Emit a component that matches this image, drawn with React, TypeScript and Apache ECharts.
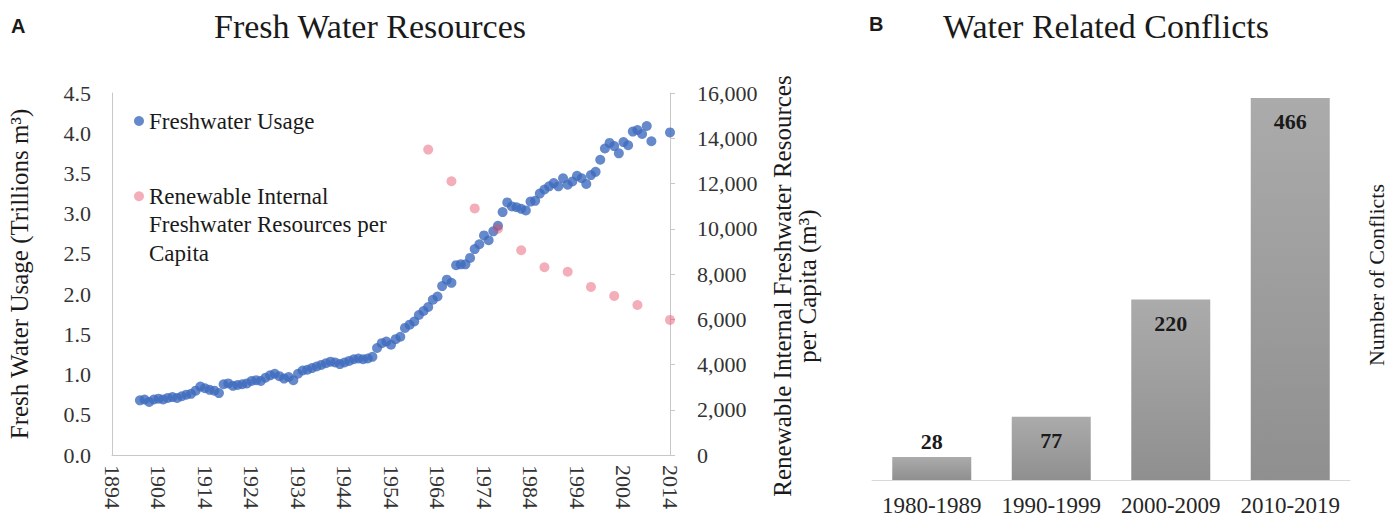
import React, { useEffect, useRef } from "react";
import * as echarts from "echarts";

// ---------- Data ----------
const usageYears = [
  1900, 1901, 1902, 1903, 1904, 1905, 1906, 1907, 1908, 1909,
  1910, 1911, 1912, 1913, 1914, 1915, 1916, 1917, 1918, 1919,
  1920, 1921, 1922, 1923, 1924, 1925, 1926, 1927, 1928, 1929,
  1930, 1931, 1932, 1933, 1934, 1935, 1936, 1937, 1938, 1939,
  1940, 1941, 1942, 1943, 1944, 1945, 1946, 1947, 1948, 1949,
  1950, 1951, 1952, 1953, 1954, 1955, 1956, 1957, 1958, 1959,
  1960, 1961, 1962, 1963, 1964, 1965, 1966, 1967, 1968, 1969,
  1970, 1971, 1972, 1973, 1974, 1975, 1976, 1977, 1978, 1979,
  1980, 1981, 1982, 1983, 1984, 1985, 1986, 1987, 1988, 1989,
  1990, 1991, 1992, 1993, 1994, 1995, 1996, 1997, 1998, 1999,
  2000, 2001, 2002, 2003, 2004, 2005, 2006, 2007, 2008, 2009,
  2010, 2014,
];
const usageValues = [
  0.68, 0.69, 0.66, 0.69, 0.70, 0.69, 0.71, 0.72, 0.71, 0.73,
  0.75, 0.76, 0.80, 0.85, 0.83, 0.81, 0.80, 0.77, 0.88, 0.89,
  0.86, 0.87, 0.88, 0.89, 0.92, 0.93, 0.92, 0.96, 0.99, 1.01,
  0.98, 0.95, 0.97, 0.93, 1.01, 1.05, 1.06, 1.08, 1.10, 1.12,
  1.14, 1.16, 1.15, 1.13, 1.15, 1.17, 1.19, 1.20, 1.19, 1.20,
  1.22, 1.33, 1.39, 1.41, 1.37, 1.44, 1.47, 1.58, 1.62, 1.66,
  1.74, 1.79, 1.84, 1.93, 1.97, 2.10, 2.18, 2.14, 2.36, 2.37,
  2.37, 2.45, 2.56, 2.62, 2.73, 2.67, 2.78, 2.85, 3.02, 3.14,
  3.09, 3.08, 3.06, 3.04, 3.15, 3.16, 3.25, 3.30, 3.34, 3.38,
  3.34, 3.44, 3.36, 3.40, 3.47, 3.44, 3.37, 3.48, 3.52, 3.67,
  3.81, 3.88, 3.84, 3.75, 3.89, 3.85, 4.02, 4.04, 3.99, 4.09,
  3.90, 4.01,
];
const resourceYears = [1962, 1967, 1972, 1977, 1982, 1987, 1992, 1997, 2002, 2007, 2014];
const resourceValues = [13500, 12100, 10900, 10000, 9050, 8300, 8100, 7430, 7030, 6630, 5970];

const yearAxisStart = 1894;
const yearAxisEnd = 2014;
const usageTicks = { min: 0, max: 4.5, interval: 0.5 };
const resourceTicks = { min: 0, max: 16000, interval: 2000 };

const conflictPeriods = ["1980-1989", "1990-1999", "2000-2009", "2010-2019"];
const conflictCounts = [28, 77, 220, 466];

const USAGE_NAME = "Freshwater Usage";
const RES_NAME = "Renewable Internal Freshwater Resources per Capita";

const SERIF = "'Liberation Serif', 'Times New Roman', serif";
const SANS = "'Liberation Sans', Arial, sans-serif";
const TEXT = "#1a1a1a";
const AXIS_GRAY = "#c8c8c8";

export default function App() {
  const ref = useRef<HTMLDivElement>(null);

  useEffect(() => {
    if (!ref.current) return;
    const chart = echarts.init(ref.current, undefined, { renderer: "svg" });

    const usageData = usageYears.map((y, i) => [y - yearAxisStart, usageValues[i]]);
    const resourceData = resourceYears.map((y, i) => [y - yearAxisStart, resourceValues[i]]);
    const barData = conflictCounts.map((v) =>
      v < 50 ? { value: v, label: { position: "top", distance: 5 } } : v
    );

    const option: any = {
      animation: false,
      backgroundColor: "#ffffff",
      textStyle: { fontFamily: SERIF },
      title: [
        {
          text: "A",
          left: 11,
          top: 16,
          padding: 0,
          textStyle: { fontFamily: SANS, fontWeight: "bold", fontSize: 20, color: TEXT },
        },
        {
          text: "Fresh Water Resources",
          left: 370,
          top: 9,
          padding: 0,
          textAlign: "center",
          textStyle: { fontFamily: SERIF, fontWeight: "normal", fontSize: 34, color: TEXT },
        },
        {
          text: "B",
          left: 869,
          top: 14,
          padding: 0,
          textStyle: { fontFamily: SANS, fontWeight: "bold", fontSize: 20, color: TEXT },
        },
        {
          text: "Water Related Conflicts",
          left: 1106,
          top: 9,
          padding: 0,
          textAlign: "center",
          textStyle: { fontFamily: SERIF, fontWeight: "normal", fontSize: 34, color: TEXT },
        },
      ],
      legend: [
        {
          data: [USAGE_NAME],
          left: 134,
          top: 107,
          padding: 0,
          icon: "circle",
          itemWidth: 10,
          itemHeight: 10,
          itemGap: 5,
          selectedMode: false,
          textStyle: { fontFamily: SERIF, fontSize: 23, color: TEXT, lineHeight: 28 },
        },
        {
          data: [RES_NAME],
          left: 134,
          top: 125,
          padding: 0,
          icon: "circle",
          itemWidth: 10,
          itemHeight: 10,
          selectedMode: false,
          formatter: () => "\n\nRenewable Internal\nFreshwater Resources per\nCapita",
          textStyle: {
            fontFamily: SERIF,
            fontSize: 23,
            color: TEXT,
            lineHeight: 28.5,
          },
        },
      ],
      grid: [
        { left: 112, top: 93, width: 558, height: 362 },
        { left: 872, top: 70, width: 478, height: 410 },
      ],
      xAxis: [
        {
          type: "value",
          gridIndex: 0,
          min: 0,
          max: yearAxisEnd - yearAxisStart,
          interval: 10,
          axisLine: { show: true, lineStyle: { color: AXIS_GRAY, width: 1 } },
          axisTick: { show: false },
          splitLine: { show: false },
          axisLabel: {
            rotate: -90,
            margin: 10,
            fontFamily: SERIF,
            fontSize: 22,
            color: "#333333",
            formatter: (v: number) => String(v + yearAxisStart),
          },
        },
        {
          type: "category",
          gridIndex: 1,
          data: conflictPeriods,
          axisLine: { show: true, lineStyle: { color: "#d9d9d9", width: 1 } },
          axisTick: { show: false },
          axisLabel: {
            interval: 0,
            margin: 14,
            fontFamily: SERIF,
            fontSize: 23,
            color: "#262626",
          },
        },
      ],
      yAxis: [
        {
          type: "value",
          gridIndex: 0,
          position: "left",
          min: usageTicks.min,
          max: usageTicks.max,
          interval: usageTicks.interval,
          axisLine: { show: true, lineStyle: { color: AXIS_GRAY, width: 1 } },
          axisTick: { show: false },
          splitLine: { show: false },
          axisLabel: {
            margin: 21,
            fontFamily: SERIF,
            fontSize: 22,
            color: "#333333",
            formatter: (v: number) => v.toFixed(1),
          },
          name: "Fresh Water Usage (Trillions m³)",
          nameLocation: "middle",
          nameGap: 80,
          nameTextStyle: { fontFamily: SERIF, fontSize: 25, color: TEXT },
        },
        {
          type: "value",
          gridIndex: 0,
          position: "right",
          min: resourceTicks.min,
          max: resourceTicks.max,
          interval: resourceTicks.interval,
          axisLine: { show: true, lineStyle: { color: AXIS_GRAY, width: 1 } },
          axisTick: { show: true, inside: false, length: 5, lineStyle: { color: AXIS_GRAY } },
          splitLine: { show: false },
          axisLabel: {
            margin: 27,
            fontFamily: SERIF,
            fontSize: 22,
            color: "#333333",
            formatter: (v: number) => v.toLocaleString("en-US"),
          },
          name: "Renewable Internal Freshwater Resources\nper Capita (m³)",
          nameLocation: "middle",
          nameGap: 100,
          nameTextStyle: {
            fontFamily: SERIF,
            fontSize: 25,
            color: TEXT,
            lineHeight: 25,
            padding: [0, 24, 0, 0],
          },
        },
        {
          type: "value",
          gridIndex: 1,
          position: "right",
          min: 0,
          max: 500,
          axisLine: { show: false },
          axisTick: { show: false },
          axisLabel: { show: false },
          splitLine: { show: false },
          name: "Number of Conflicts",
          nameLocation: "middle",
          nameGap: 15,
          nameTextStyle: { fontFamily: SERIF, fontSize: 22, color: TEXT },
        },
      ],
      series: [
        {
          name: USAGE_NAME,
          type: "scatter",
          xAxisIndex: 0,
          yAxisIndex: 0,
          symbol: "circle",
          symbolSize: 10,
          itemStyle: { color: "#3f6cbd" },
          data: usageData,
          z: 2,
        },
        {
          name: RES_NAME,
          type: "scatter",
          xAxisIndex: 0,
          yAxisIndex: 1,
          symbol: "circle",
          symbolSize: 10,
          itemStyle: { color: "rgba(228,80,106,0.58)" },
          data: resourceData,
          z: 3,
        },
        {
          name: "Number of Conflicts",
          type: "bar",
          xAxisIndex: 1,
          yAxisIndex: 2,
          barWidth: 79,
          itemStyle: {
            color: new echarts.graphic.LinearGradient(0, 0, 0, 1, [
              { offset: 0, color: "#ababab" },
              { offset: 1, color: "#8f8f8f" },
            ]),
          },
          label: {
            show: true,
            position: "insideTop",
            distance: 13,
            fontFamily: SERIF,
            fontWeight: "bold",
            fontSize: 22,
            color: TEXT,
          },
          data: barData,
        },
      ],
    };

    chart.setOption(option);
    return () => chart.dispose();
  }, []);

  return (
    <div
      ref={ref}
      style={{ position: "fixed", left: 0, top: 0, width: 1394, height: 518, background: "#fff" }}
    />
  );
}
